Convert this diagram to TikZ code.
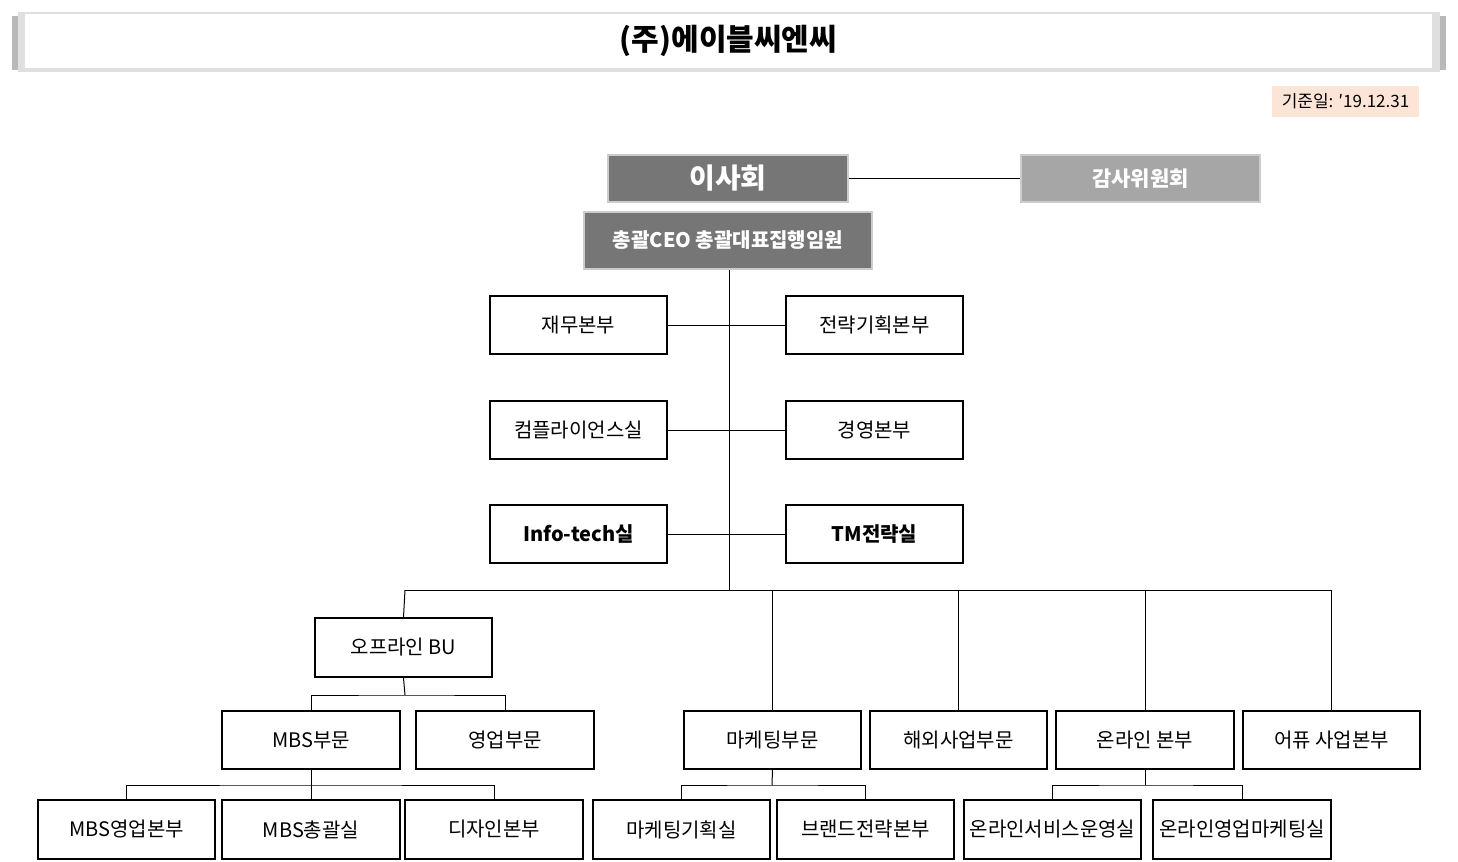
\documentclass[tikz,border=0pt]{standalone}
\usepackage{fontspec}
\setmainfont{Noto Sans CJK KR}
\begin{document}
\begin{tikzpicture}[x=0.5pt,y=-0.5pt,
  bx/.style={draw=black,line width=1pt,fill=white,font=\fontsize{10}{12}\selectfont},
  dk/.style={draw=gray!40,line width=1pt,text=white,font=\bfseries},
  ln/.style={draw=black,line width=0.5pt}]
\definecolor{dg}{RGB}{118,118,118}\definecolor{lg}{RGB}{166,166,166}\definecolor{peach}{RGB}{252,228,214}
\useasboundingbox (0,0) rectangle (1458,862);
\def\B#1#2#3#4#5#6{\node[#6,minimum width=#3*0.5pt-#1*0.5pt,minimum height=#4*0.5pt-#2*0.5pt,inner sep=0pt] (#5) at ({(#1+#3)/2},{(#2+#4)/2})}
% title
\fill[gray!55] (12,16) rectangle (1446,70);
\fill[gray!25] (18,12) rectangle (1440,72);
\B{25}{14}{1432}{68}{title}{fill=white}{\fontsize{15}{18}\selectfont\bfseries (주)에이블씨엔씨};
\B{1272}{86}{1419}{117}{date}{fill=peach}{\fontsize{8.5}{10}\selectfont 기준일: ′19.12.31};
\B{608}{155}{848}{202}{board}{dk,fill=dg,font=\fontsize{14}{16}\selectfont\bfseries}{이사회};
\B{1021}{155}{1260}{202}{audit}{dk,fill=lg,font=\fontsize{10.5}{12}\selectfont\bfseries}{감사위원회};
\B{584}{212}{872}{269}{ceo}{dk,fill=dg,font=\fontsize{10}{12}\selectfont\bfseries}{총괄CEO 총괄대표집행임원};
\draw[ln] (board.east) -- (audit.west);
\B{490}{296}{667}{354}{l1}{bx}{재무본부};
\B{786}{296}{963}{354}{r1}{bx}{전략기획본부};
\B{490}{401}{667}{459}{l2}{bx}{컴플라이언스실};
\B{786}{401}{963}{459}{r2}{bx}{경영본부};
\B{490}{505}{667}{563}{l3}{bx}{\bfseries Info-tech실};
\B{786}{505}{963}{563}{r3}{bx}{\bfseries TM전략실};
\coordinate (bus) at (729,590);
\draw[ln] (ceo.south -| bus) -- (bus);
\foreach \i in {1,2,3}{\draw[ln] (l\i.east) -- (r\i.west);}
\B{315}{618}{492}{677}{off}{bx}{오프라인 BU};
\B{222}{711}{400}{769}{mbs}{bx}{MBS부문};
\B{416}{711}{594}{769}{sales}{bx}{영업부문};
\B{684}{711}{861}{769}{mkt}{bx}{마케팅부문};
\B{870}{711}{1047}{769}{ovs}{bx}{해외사업부문};
\B{1056}{711}{1234}{769}{onl}{bx}{온라인 본부};
\B{1243}{711}{1420}{769}{apu}{bx}{어퓨 사업본부};
\B{38}{800}{215}{859}{m1}{bx}{MBS영업본부};
\B{222}{800}{400}{859}{m2}{bx}{MBS총괄실};
\B{405}{800}{583}{859}{m3}{bx}{디자인본부};
\B{593}{800}{770}{859}{k1}{bx}{마케팅기획실};
\B{777}{800}{954}{859}{k2}{bx}{브랜드전략본부};
\B{964}{800}{1141}{859}{o1}{bx}{온라인서비스운영실};
\B{1153}{800}{1331}{859}{o2}{bx}{온라인영업마케팅실};
% bus
\draw[ln] (405,590) -- (1331,590);
\draw[ln] (405,590) -- (off.north);
\draw[ln] (772,590) -- (mkt.north -| 772,0);
\draw[ln] (958,590) -- (ovs.north -| 958,0);
\draw[ln] (1145,590) -- (onl.north -| 1145,0);
\draw[ln] (1331,590) -- (apu.north -| 1331,0);
\coordinate (j1) at (405,695);
\draw[ln] (off.south) -- (j1);
\draw[ln] (mbs.north) |- (j1) -| (sales.north);
\coordinate (j2) at (311,785);
\draw[ln] (mbs.south) -- (j2);
\draw[ln] (m1.north) |- (j2) -| (m3.north); \draw[ln] (j2) -- (m2.north);
\coordinate (j3) at (772,785);
\draw[ln] (mkt.south) -- (j3);
\draw[ln] (k1.north) |- (j3) -| (k2.north);
\coordinate (j4) at (1145,785);
\draw[ln] (onl.south) -- (j4);
\draw[ln] (o1.north) |- (j4) -| (o2.north);
\end{tikzpicture}
\end{document}
